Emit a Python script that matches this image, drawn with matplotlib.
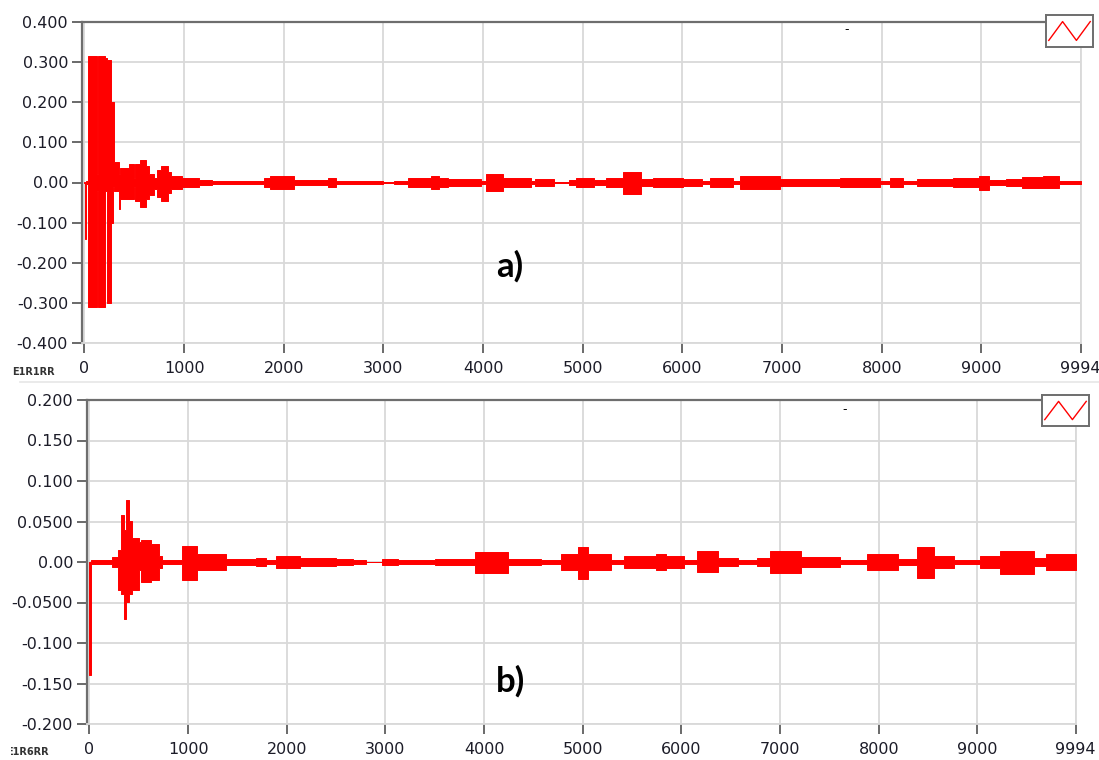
import matplotlib
matplotlib.use("Agg")
import matplotlib.pyplot as plt
from matplotlib.transforms import Bbox
import numpy as np

N_SAMPLES = 9994

# ---- panel a) envelope: segment start, upper, lower
A_START = [0, 5, 15, 35, 130, 140, 210, 228, 262, 290, 300, 345, 355, 445, 495, 510,
           560, 620, 650, 700, 730, 770, 840, 865, 980, 1150, 1280, 1800, 1860, 2100,
           2440, 2520, 3000, 3110, 3250, 3480, 3560, 3650, 3980, 4030, 4200, 4480,
           4520, 4710, 4860, 4930, 5110, 5230, 5400, 5580, 5700, 6010, 6200, 6280,
           6510, 6580, 6980, 7580, 7740, 7980, 8080, 8210, 8350, 8710, 8980, 9080,
           9250, 9410, 9620, 9780]
A_HI = [0.002, 0.0, 0.003, 0.315, 0.02, 0.315, 0.31, 0.305, 0.2, 0.2, 0.05, 0.02,
        0.035, 0.045, 0.01, 0.045, 0.055, 0.04, 0.02, 0.012, 0.03, 0.04, 0.025, 0.015,
        0.01, 0.006, 0.003, 0.01, 0.016, 0.005, 0.01, 0.004, 0.001, 0.004, 0.01,
        0.015, 0.01, 0.009, 0.004, 0.02, 0.01, 0.004, 0.008, 0.001, 0.006, 0.011,
        0.006, 0.01, 0.025, 0.008, 0.012, 0.008, 0.004, 0.01, 0.004, 0.016, 0.008,
        0.012, 0.01, 0.003, 0.01, 0.003, 0.008, 0.012, 0.016, 0.005, 0.008, 0.013,
        0.017, 0.003]
A_LO = [-0.002, -0.14, -0.003, -0.31, -0.02, -0.31, -0.02, -0.30, -0.1, -0.01,
        -0.02, -0.065, -0.04, -0.04, -0.01, -0.045, -0.06, -0.04, -0.03, -0.015,
        -0.035, -0.045, -0.025, -0.015, -0.01, -0.006, -0.003, -0.01, -0.016, -0.005,
        -0.01, -0.004, -0.001, -0.004, -0.01, -0.015, -0.01, -0.009, -0.004, -0.022,
        -0.01, -0.004, -0.008, -0.001, -0.006, -0.011, -0.006, -0.01, -0.028, -0.008,
        -0.012, -0.008, -0.004, -0.01, -0.004, -0.017, -0.008, -0.012, -0.01, -0.003,
        -0.01, -0.003, -0.008, -0.012, -0.018, -0.005, -0.008, -0.013, -0.014, -0.003]

# ---- panel b)
B_START = [0, 12, 230, 290, 316, 345, 375, 400, 435, 500, 520, 620, 705, 740, 940,
           1090, 1380, 1690, 1790, 1890, 2130, 2500, 2670, 2800, 2960, 3130, 3500,
           3910, 4240, 4580, 4780, 4950, 5050, 5290, 5420, 5740, 5840, 6030, 6160,
           6370, 6570, 6770, 6900, 7210, 7610, 7880, 8190, 8390, 8560, 8760, 9030,
           9230, 9570, 9700]
B_HI = [0.0, 0.002, 0.006, 0.015, 0.058, 0.04, 0.076, 0.05, 0.03, 0.025, 0.027,
        0.022, 0.007, 0.003, 0.02, 0.01, 0.004, 0.005, 0.002, 0.007, 0.005, 0.004,
        0.002, 0.0005, 0.004, 0.002, 0.004, 0.012, 0.004, 0.003, 0.01, 0.019, 0.01,
        0.003, 0.007, 0.01, 0.007, 0.003, 0.013, 0.005, 0.002, 0.005, 0.014, 0.006,
        0.003, 0.01, 0.004, 0.019, 0.007, 0.002, 0.008, 0.014, 0.005, 0.01]
B_LO = [-0.14, -0.002, -0.006, -0.035, -0.04, -0.07, -0.05, -0.04, -0.035, -0.01,
        -0.025, -0.022, -0.007, -0.003, -0.022, -0.01, -0.004, -0.005, -0.002, -0.007,
        -0.005, -0.004, -0.002, -0.0005, -0.004, -0.002, -0.004, -0.013, -0.004,
        -0.003, -0.01, -0.021, -0.01, -0.003, -0.007, -0.01, -0.007, -0.003, -0.012,
        -0.005, -0.002, -0.005, -0.013, -0.006, -0.003, -0.01, -0.004, -0.02, -0.007,
        -0.002, -0.008, -0.015, -0.005, -0.01]

X_TICKS = [0, 1000, 2000, 3000, 4000, 5000, 6000, 7000, 8000, 9000, 9994]
A_YTICKS = [0.4, 0.3, 0.2, 0.1, 0.0, -0.1, -0.2, -0.3, -0.4]
A_YLABELS = ["0.400", "0.300", "0.200", "0.100", "0.00", "-0.100", "-0.200", "-0.300", "-0.400"]
B_YTICKS = [0.2, 0.15, 0.1, 0.05, 0.0, -0.05, -0.1, -0.15, -0.2]
B_YLABELS = ["0.200", "0.150", "0.100", "0.0500", "0.00", "-0.0500", "-0.100", "-0.150", "-0.200"]
LEGEND_GLYPH = [0, 1, 0, 1]

W, H = 1099, 760
RED = "#ff0000"
GRID = "#d9d9d9"
TXT = "#1c1c28"


def px_rect(l, t, r, b):
    """figure-fraction rect from pixel box (top-left origin)"""
    return [l / W, 1 - b / H, (r - l) / W, (b - t) / H]


def panel(rect, start, hi, lo, yticks, ylabels, ylim):
    ax = fig.add_axes(rect)
    x = np.append(start, N_SAMPLES)
    ax.fill_between(x, np.append(hi, hi[-1]), np.append(lo, lo[-1]), step="post",
                    color=RED, lw=0.7, zorder=3)
    ax.set_xlim(-25, N_SAMPLES + 5)
    ax.set_ylim(*ylim)
    ax.set_xticks(X_TICKS)
    ax.set_xticklabels([str(t) for t in X_TICKS])
    ax.set_yticks(yticks)
    ax.set_yticklabels(ylabels)
    ax.grid(True, color=GRID, lw=1.3, zorder=0)
    ax.set_axisbelow(True)
    ax.tick_params(axis="y", length=7, width=1.2, color="#505050", labelsize=11.5,
                   labelcolor=TXT, pad=3)
    ax.tick_params(axis="x", length=7, width=1.2, color="#505050", labelsize=11.5,
                   labelcolor=TXT, pad=6)
    for s in ("left", "top"):
        ax.spines[s].set_color("#6e6e6e")
        ax.spines[s].set_linewidth(1.6)
    for s in ("right", "bottom"):
        ax.spines[s].set_color(GRID)
        ax.spines[s].set_linewidth(1.3)
    return ax


def legend_box(l, t, r, b):
    lg = fig.add_axes(px_rect(l, t, r, b))
    lg.plot(range(len(LEGEND_GLYPH)), LEGEND_GLYPH, color=RED, lw=1.0)
    lg.set_xlim(-0.2, 3.2)
    lg.set_ylim(-0.35, 1.35)
    lg.set_xticks([])
    lg.set_yticks([])
    for s in lg.spines.values():
        s.set_color("#6e6e6e")
        s.set_linewidth(1.4)


fig = plt.figure(figsize=(W / 100, H / 100), dpi=100)

ax_a = panel(px_rect(82, 22, 1081, 343), A_START, A_HI, A_LO, A_YTICKS, A_YLABELS, (-0.4, 0.4))
ax_b = panel(px_rect(87, 400, 1076, 724), B_START, B_HI, B_LO, B_YTICKS, B_YLABELS, (-0.2, 0.2))

legend_box(1046, 15, 1093, 47)
legend_box(1042, 395, 1089, 426)

# separator above lower panel
fig.add_artist(plt.Line2D([20 / W, 1], [1 - 382 / H] * 2, color="#e6e6e6", lw=1.2))

fig.text(510 / W, 1 - 266 / H, "a)", fontsize=25, fontweight="bold", family="Lato",
         ha="center", va="center", color="black")
fig.text(511 / W, 1 - 681 / H, "b)", fontsize=25, fontweight="bold", family="Lato",
         ha="center", va="center", color="black")

fig.text(847 / W, 1 - 30 / H, "-", fontsize=9, ha="center", va="center", color="black")
fig.text(845 / W, 1 - 410 / H, "-", fontsize=9, ha="center", va="center", color="black")

fig.text(12 / W, 1 - 372 / H, "E1R1RR", fontsize=7, fontweight="bold", ha="left",
         va="center", color="#333333")
t = fig.text(6 / W, 1 - 752 / H, "E1R6RR", fontsize=7, fontweight="bold", ha="left",
             va="center", color="#333333")
t.set_clip_box(Bbox.from_extents(11, 0, W, H))
t.set_clip_on(True)

fig.savefig("out.png", dpi=100)
